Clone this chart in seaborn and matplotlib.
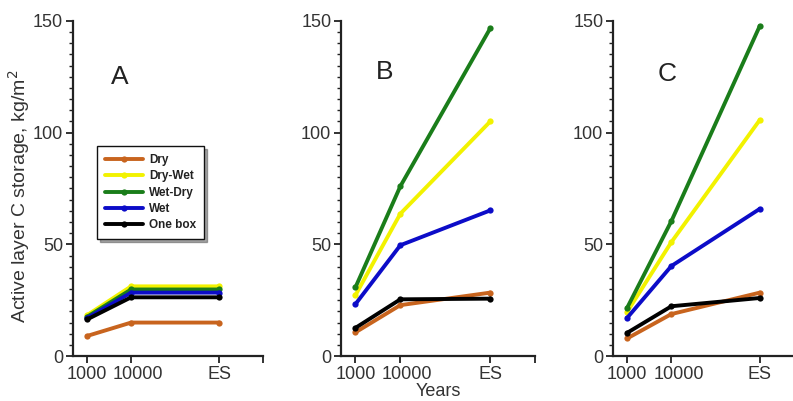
import numpy as np
import pandas as pd
import matplotlib
matplotlib.use("Agg")
import matplotlib.pyplot as plt
import matplotlib.transforms as mtransforms
import seaborn as sns

# x categories and their positions on the axis
times = ["1000", "10000", "ES"]
time_pos = [0, 1, 3]
scenarios = ["Dry", "Dry-Wet", "Wet-Dry", "Wet", "One box"]
colors = ["#c8641e", "#f2f200", "#1a7d1a", "#0c0cc8", "#000000"]

# active layer C storage, kg/m2
panel_a = {
    "Dry": [9, 15, 15],
    "Dry-Wet": [18.3, 31.2, 31.2],
    "Wet-Dry": [17.6, 29.8, 29.8],
    "Wet": [17.0, 28.4, 28.4],
    "One box": [16.4, 26.3, 26.3],
}
panel_b = {
    "Dry": [10.6, 22.8, 28.4],
    "Dry-Wet": [27.2, 63.7, 105.0],
    "Wet-Dry": [30.7, 76.0, 146.7],
    "Wet": [23.2, 49.6, 65.2],
    "One box": [12.6, 25.4, 25.7],
}
panel_c = {
    "Dry": [7.9, 18.8, 28.4],
    "Dry-Wet": [19.8, 51.0, 105.7],
    "Wet-Dry": [21.6, 60.4, 147.8],
    "Wet": [17.1, 40.3, 65.9],
    "One box": [10.4, 22.3, 26.0],
}
panels = {"A": panel_a, "B": panel_b, "C": panel_c}


def to_long(d):
    rows = []
    for s in scenarios:
        for p, v in zip(time_pos, d[s]):
            rows.append({"pos": p, "value": v, "scenario": s})
    return pd.DataFrame(rows)


sns.set_style("ticks")
plt.rcParams["font.family"] = ["Liberation Sans", "DejaVu Sans"]

fig = plt.figure(figsize=(7.93, 4.01), dpi=100)
rects = {
    "A": [0.092, 0.112, 0.240, 0.836],
    "B": [0.430, 0.112, 0.245, 0.836],
    "C": [0.773, 0.112, 0.241, 0.836],
}
label_pos = {"A": (0.75, 125), "B": (0.65, 127), "C": (0.9, 126)}

for name, d in panels.items():
    ax = fig.add_axes(rects[name])
    df = to_long(d)
    sns.lineplot(data=df, x="pos", y="value", hue="scenario",
                 hue_order=scenarios, palette=colors, marker="o",
                 markersize=4.5, markeredgewidth=0, linewidth=2.8,
                 legend=(name == "A"), ax=ax)
    ax.set_xlim(-0.32, 4)
    ax.set_ylim(0, 150)
    ax.set_xticks(time_pos + [4])
    ax.set_xticklabels(times + [""])
    ax.set_yticks([0, 50, 100, 150])
    ax.set_yticks(np.arange(0, 151, 5), minor=True)
    ax.tick_params(axis="both", which="major", labelsize=13, length=5,
                   width=1.3, color="#222222", labelcolor="#333333", pad=2)
    ax.tick_params(axis="y", which="minor", length=3, width=1.0, color="#222222")
    # nudge the "10000" label right so it clears "1000"
    lab = ax.get_xticklabels()[1]
    lab.set_transform(lab.get_transform() +
                      mtransforms.ScaledTranslation(7 / 100, 0, fig.dpi_scale_trans))
    for sp in ["left", "bottom"]:
        ax.spines[sp].set_linewidth(1.6)
        ax.spines[sp].set_color("#222222")
    sns.despine(ax=ax)
    ax.set_xlabel("")
    ax.set_ylabel("")
    ax.text(*label_pos[name], name, fontsize=19, color="#222222",
            ha="center", va="center")
    if name == "A":
        ax.set_ylabel("Active layer C storage, kg/m$^2$", fontsize=14,
                      color="#333333")
        ax.yaxis.set_label_coords(-0.215, 0.475)
        leg = ax.legend(loc="upper left", bbox_to_anchor=(0.126, 0.627),
                        borderaxespad=0, fontsize=8.5, frameon=True,
                        fancybox=False, shadow=True,
                        handlelength=3.2, labelspacing=0.36,
                        borderpad=0.7, handletextpad=0.5)
        leg.get_frame().set_edgecolor("#111111")
        leg.get_frame().set_linewidth(1.0)
        for t in leg.get_texts():
            t.set_fontweight("bold")
            t.set_color("#222222")
    if name == "B":
        ax.set_xlabel("Years", fontsize=13, color="#333333", labelpad=0)

fig.savefig("out.png", dpi=100)
